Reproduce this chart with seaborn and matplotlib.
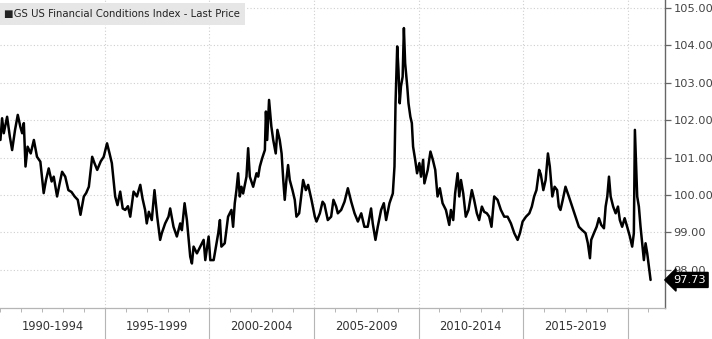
import matplotlib
matplotlib.use("Agg")
import matplotlib.pyplot as plt
import matplotlib.transforms as mtransforms
from matplotlib.patches import Rectangle
import seaborn as sns
import pandas as pd

# ---- data ----
dates = [
    1990.00, 1990.08, 1990.16, 1990.32, 1990.45, 1990.56, 1990.70, 1990.83, 1990.95,
    1991.04, 1991.12, 1991.20, 1991.30, 1991.45, 1991.60, 1991.75, 1991.91,
    1992.07, 1992.18, 1992.31, 1992.45, 1992.55, 1992.71, 1992.83, 1992.95,
    1993.10, 1993.25, 1993.40, 1993.55, 1993.70, 1993.83, 1993.99,
    1994.10, 1994.23, 1994.39, 1994.50, 1994.63, 1994.80, 1994.94,
    1995.10, 1995.22, 1995.33, 1995.49, 1995.60, 1995.73, 1995.85, 1995.97,
    1996.10, 1996.21, 1996.37, 1996.53, 1996.69, 1996.80, 1996.92,
    1997.00, 1997.10, 1997.24, 1997.37, 1997.50, 1997.64, 1997.72, 1997.88,
    1998.04, 1998.12, 1998.28, 1998.44, 1998.60, 1998.68, 1998.81, 1998.92,
    1999.08, 1999.16, 1999.24, 1999.40, 1999.56, 1999.72, 1999.80, 1999.96,
    2000.04, 2000.20, 2000.34, 2000.42, 2000.50, 2000.57, 2000.73, 2000.81, 2000.89,
    2001.05, 2001.13, 2001.21, 2001.29, 2001.37, 2001.45, 2001.53, 2001.61, 2001.77, 2001.85, 2001.93,
    2002.09, 2002.25, 2002.33, 2002.41, 2002.52, 2002.65, 2002.70, 2002.76, 2002.85, 2002.96,
    2003.05, 2003.17, 2003.25, 2003.36, 2003.45, 2003.53, 2003.60, 2003.68, 2003.76, 2003.84, 2003.97,
    2004.08, 2004.16, 2004.29, 2004.40, 2004.48, 2004.61, 2004.72, 2004.88,
    2005.04, 2005.12, 2005.28, 2005.41, 2005.50, 2005.66, 2005.82, 2005.93,
    2006.06, 2006.14, 2006.30, 2006.46, 2006.62, 2006.78, 2006.94,
    2007.10, 2007.26, 2007.41, 2007.57, 2007.73, 2007.81, 2007.94,
    2008.05, 2008.21, 2008.34, 2008.45, 2008.61, 2008.77, 2008.85, 2008.90, 2008.98,
    2009.04, 2009.10, 2009.16, 2009.24, 2009.30, 2009.36, 2009.46, 2009.52, 2009.61, 2009.68, 2009.74, 2009.84, 2009.93,
    2010.04, 2010.12, 2010.22, 2010.28, 2010.44, 2010.57, 2010.68, 2010.80, 2010.91,
    2011.02, 2011.15, 2011.31, 2011.47, 2011.55, 2011.66, 2011.75, 2011.87, 2011.95,
    2012.03, 2012.14, 2012.26, 2012.39, 2012.55, 2012.66, 2012.79, 2012.90,
    2013.03, 2013.14, 2013.27, 2013.38, 2013.49, 2013.62, 2013.78, 2013.94,
    2014.10, 2014.26, 2014.42, 2014.58, 2014.74, 2014.85, 2014.98,
    2015.14, 2015.30, 2015.42, 2015.53, 2015.64, 2015.77, 2015.85, 2015.97,
    2016.08, 2016.19, 2016.28, 2016.40, 2016.51, 2016.63, 2016.71, 2016.79, 2016.90,
    2017.03, 2017.19, 2017.35, 2017.51, 2017.67, 2017.83, 2017.99,
    2018.10, 2018.20, 2018.26, 2018.39, 2018.52, 2018.63, 2018.74, 2018.87, 2018.95,
    2019.03, 2019.11, 2019.19, 2019.31, 2019.43, 2019.54, 2019.63, 2019.74, 2019.86, 2019.98,
    2020.11, 2020.22, 2020.30, 2020.35, 2020.41, 2020.46, 2020.54, 2020.62, 2020.70, 2020.78, 2020.86, 2020.94,
    2021.02, 2021.10,
]

fci = [
    101.47, 102.05, 101.65, 102.09, 101.56, 101.20, 101.74, 102.14, 101.83,
    101.65, 101.92, 100.76, 101.29, 101.11, 101.47, 101.02, 100.89,
    100.05, 100.40, 100.71, 100.36, 100.49, 99.96, 100.30, 100.62,
    100.49, 100.13, 100.08, 99.96, 99.87, 99.47, 99.96,
    100.05, 100.22, 101.02, 100.85, 100.67, 100.90, 101.02,
    101.38, 101.11, 100.85, 99.96, 99.73, 100.09, 99.64, 99.60,
    99.70, 99.42, 100.09, 99.96, 100.27, 99.90, 99.60,
    99.24, 99.55, 99.33, 100.13, 99.42, 98.80, 98.98, 99.24,
    99.42, 99.64, 99.15, 98.89, 99.24, 99.06, 99.78, 99.33,
    98.35, 98.17, 98.62, 98.44, 98.62, 98.80, 98.26, 98.89,
    98.26, 98.26, 98.71, 98.98, 99.33, 98.62, 98.71, 99.06, 99.42,
    99.60, 99.15, 99.78, 100.13, 100.58, 99.96, 100.22, 100.04, 100.49, 101.25, 100.49,
    100.22, 100.58, 100.49, 100.76, 100.98, 101.20, 102.23, 101.47, 102.54, 101.83,
    101.47, 101.11, 101.74, 101.47, 101.11, 100.40, 99.87, 100.40, 100.80, 100.40, 100.13,
    99.87, 99.42, 99.51, 100.04, 100.40, 100.13, 100.27, 99.87,
    99.42, 99.29, 99.51, 99.82, 99.75, 99.33, 99.42, 99.87,
    99.69, 99.51, 99.60, 99.82, 100.18, 99.82, 99.51,
    99.29, 99.51, 99.15, 99.15, 99.64, 99.24, 98.80,
    99.15, 99.60, 99.78, 99.33, 99.78, 100.04, 100.76, 102.45, 103.97,
    103.34, 102.45, 102.90, 103.16, 104.46, 103.52, 102.90, 102.45, 102.09, 101.92, 101.29, 100.94, 100.58,
    100.85, 100.49, 100.94, 100.31, 100.67, 101.16, 100.95, 100.67, 99.96,
    100.18, 99.78, 99.60, 99.20, 99.60, 99.33, 100.04, 100.58, 99.96,
    100.40, 100.04, 99.42, 99.60, 100.13, 99.87, 99.51, 99.33,
    99.69, 99.55, 99.51, 99.42, 99.15, 99.96, 99.87, 99.60,
    99.42, 99.42, 99.24, 98.98, 98.80, 98.98, 99.29,
    99.42, 99.51, 99.69, 99.96, 100.13, 100.67, 100.55, 100.13,
    100.40, 101.11, 100.76, 99.96, 100.22, 100.13, 99.69, 99.60, 99.87,
    100.22, 99.96, 99.69, 99.42, 99.15, 99.06, 98.98,
    98.71, 98.31, 98.80, 98.98, 99.15, 99.38, 99.20, 99.11, 99.69,
    99.96, 100.49, 99.96, 99.69, 99.51, 99.69, 99.33, 99.15, 99.38, 99.15,
    98.89, 98.62, 98.98, 101.74, 100.76, 99.96, 99.69, 99.15, 98.71, 98.26, 98.71, 98.44,
    98.08, 97.73,
]

period_starts = [1990, 1995, 2000, 2005, 2010, 2015]
period_labels = ["1990-1994", "1995-1999", "2000-2004", "2005-2009", "2010-2014", "2015-2019"]
separators = [1995, 2000, 2005, 2010, 2015, 2020]
y_ticks = [98, 99, 100, 101, 102, 103, 104, 105]
last_price = 97.73
series_name = "GS US Financial Conditions Index - Last Price"

# ---- style ----
sns.set_style("white")
plt.rcParams['font.family'] = ['DejaVu Sans']

W, H = 712, 339
fig = plt.figure(figsize=(W / 100, H / 100), dpi=100)
ax = fig.add_axes([0, 31 / H, 665 / W, 308 / H])

df = pd.DataFrame({"date": dates, "fci": fci})
sns.lineplot(data=df, x="date", y="fci", ax=ax, color="black", lw=1.8)

ax.set_xlim(1989.98, 2021.79)
ax.set_ylim(96.98, 105.21)
ax.set_xlabel("")
ax.set_ylabel("")

# grid
for v in y_ticks:
    ax.axhline(v, color="#cfcfcf", lw=0.8, ls=(0, (1, 2)), zorder=0)
for s in separators:
    ax.axvline(s, color="#cfcfcf", lw=0.8, ls=(0, (1, 2)), zorder=0)

# spines
ax.spines["left"].set_visible(False)
ax.spines["top"].set_visible(False)
ax.spines["bottom"].set_color("#b5b5b5")
ax.spines["bottom"].set_linewidth(0.9)
ax.spines["right"].set_color("#666666")
ax.spines["right"].set_linewidth(1.0)

# y axis on right
ax.yaxis.tick_right()
ax.set_yticks(y_ticks)
ax.set_yticklabels([f"{v:.2f}" for v in y_ticks])
ax.tick_params(axis="y", which="major", length=4, width=0.9, color="#666666",
               labelsize=8.2, labelcolor="#444444", pad=2, right=True, left=False)

# x axis: no major ticks; yearly minor ticks
ax.set_xticks([])
ax.set_xticks(list(range(1990, 2022)), minor=True)
ax.tick_params(axis="x", which="minor", length=3, width=0.7, color="#b5b5b5",
               bottom=True, labelbottom=False)

trans = mtransforms.blended_transform_factory(ax.transData, ax.transAxes)
for start, lab in zip(period_starts, period_labels):
    ax.text(start + 2.5, -18 / 308, lab, transform=trans, ha="center", va="center",
            fontsize=8.3, color="#333333")
for s in separators:
    ax.plot([s, s], [0, -31 / 308], transform=trans, clip_on=False,
            color="#b5b5b5", lw=0.8)

# last price tag
trans_y = mtransforms.blended_transform_factory(ax.transAxes, ax.transData)
ax.text(1.012, last_price, f"{last_price:.2f}", transform=trans_y, ha="left", va="center",
        fontsize=8.2, color="white", clip_on=False,
        bbox=dict(boxstyle="larrow,pad=0.22", fc="black", ec="black"))

# legend box
fig.patches.append(Rectangle((0, 1 - 25 / H), 245 / W, 22 / H, transform=fig.transFigure,
                             fc="#e6e6e6", ec="none", zorder=5))
fig.text(4 / W, 1 - 14 / H, "\u25A0" + series_name, fontsize=7.3, va="center", ha="left",
         color="#222222", zorder=6)

fig.savefig("out.png", dpi=100)
